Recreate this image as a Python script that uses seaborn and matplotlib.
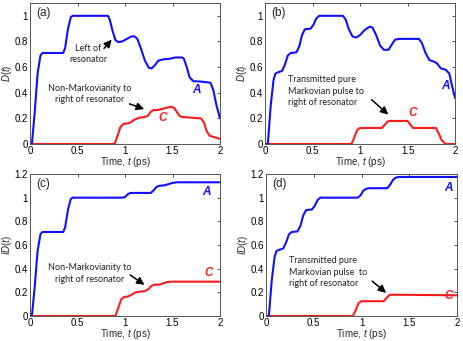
import matplotlib
matplotlib.use("Agg")
import matplotlib.pyplot as plt
import seaborn as sns

# ---- data ----
# (a) D(t), Markovian input with non-Markovian resonator
ta_A = [0, 0.02, 0.05, 0.08, 0.11, 0.13, 0.35, 0.37, 0.40, 0.43, 0.45, 0.82, 0.84, 0.87, 0.90, 0.93,
        0.97, 1.02, 1.07, 1.10, 1.13, 1.17, 1.21, 1.25, 1.28, 1.31, 1.35, 1.40, 1.47, 1.53, 1.60, 1.62,
        1.65, 1.68, 1.72, 1.80, 1.90, 1.93, 1.96, 2.0]
Da_A = [0, 0, 0.25, 0.55, 0.69, 0.71, 0.71, 0.75, 0.90, 0.99, 1.0, 1.0, 0.97, 0.88, 0.81, 0.795,
        0.80, 0.82, 0.84, 0.84, 0.82, 0.74, 0.65, 0.595, 0.59, 0.61, 0.65, 0.66, 0.665, 0.675, 0.675, 0.665,
        0.60, 0.52, 0.49, 0.487, 0.478, 0.42, 0.31, 0.2]
ta_C = [0, 0.89, 0.92, 0.95, 0.98, 1.01, 1.05, 1.10, 1.15, 1.20, 1.24, 1.27, 1.30, 1.34, 1.40, 1.45,
        1.49, 1.52, 1.55, 1.58, 1.62, 1.70, 1.80, 1.83, 1.86, 1.89, 1.93, 2.0]
Da_C = [0, 0, 0.06, 0.13, 0.155, 0.16, 0.165, 0.19, 0.205, 0.21, 0.22, 0.25, 0.265, 0.265, 0.275, 0.285,
        0.29, 0.28, 0.245, 0.215, 0.21, 0.205, 0.2, 0.17, 0.10, 0.065, 0.055, 0.04]

# (b) D(t), Markovian transmitted pulse
tb_A = [0, 0.03, 0.06, 0.09, 0.11, 0.14, 0.18, 0.21, 0.24, 0.27, 0.33, 0.36, 0.39, 0.42, 0.48, 0.51,
        0.54, 0.57, 0.60, 0.82, 0.85, 0.88, 0.92, 0.96, 1.00, 1.05, 1.10, 1.13, 1.17, 1.21, 1.25, 1.30,
        1.33, 1.37, 1.42, 1.62, 1.65, 1.69, 1.73, 1.77, 1.81, 1.85, 1.90, 1.94, 1.97, 2.0]
Db_A = [0, 0, 0.3, 0.5, 0.55, 0.56, 0.57, 0.62, 0.69, 0.71, 0.715, 0.76, 0.85, 0.895, 0.90, 0.93,
        0.98, 1.0, 1.0, 1.0, 0.97, 0.90, 0.84, 0.83, 0.85, 0.89, 0.915, 0.91, 0.85, 0.77, 0.735, 0.735,
        0.77, 0.815, 0.82, 0.82, 0.79, 0.71, 0.655, 0.645, 0.63, 0.59, 0.58, 0.55, 0.45, 0.36]
tb_C = [0, 0.91, 0.94, 0.97, 1.0, 1.23, 1.26, 1.29, 1.31, 1.50, 1.53, 1.56, 1.80, 1.83, 1.86, 1.90, 2.0]
Db_C = [0, 0, 0.05, 0.11, 0.125, 0.125, 0.15, 0.175, 0.18, 0.18, 0.15, 0.125, 0.125, 0.08, 0.03, 0, 0]

# (c) ID(t) for (a)
tc_A = [0, 0.02, 0.05, 0.08, 0.11, 0.13, 0.35, 0.37, 0.40, 0.43, 0.45, 0.97, 1.0, 1.03, 1.06, 1.27,
        1.30, 1.33, 1.36, 1.42, 1.46, 1.50, 1.55, 2.0]
Ic_A = [0, 0, 0.25, 0.55, 0.69, 0.71, 0.71, 0.75, 0.90, 0.99, 1.0, 1.0, 1.005, 1.03, 1.04, 1.04,
        1.06, 1.09, 1.10, 1.105, 1.115, 1.125, 1.13, 1.13]
tc_C = [0, 0.90, 0.93, 0.96, 0.99, 1.03, 1.07, 1.11, 1.15, 1.21, 1.25, 1.28, 1.31, 1.36, 1.40, 1.44, 1.48, 2.0]
Ic_C = [0, 0, 0.07, 0.14, 0.16, 0.165, 0.18, 0.2, 0.205, 0.21, 0.23, 0.255, 0.265, 0.265, 0.275, 0.287, 0.29, 0.29]

# (d) ID(t) for (b)
td_A = [0, 0.03, 0.06, 0.09, 0.11, 0.14, 0.18, 0.21, 0.24, 0.27, 0.33, 0.36, 0.39, 0.42, 0.48, 0.51,
        0.54, 0.57, 0.60, 0.96, 0.99, 1.02, 1.05, 1.08, 1.27, 1.30, 1.33, 1.36, 1.39, 2.0]
Id_A = [0, 0, 0.3, 0.5, 0.55, 0.56, 0.57, 0.62, 0.69, 0.71, 0.715, 0.76, 0.85, 0.895, 0.90, 0.93,
        0.98, 1.0, 1.0, 1.0, 1.02, 1.06, 1.075, 1.08, 1.08, 1.11, 1.15, 1.17, 1.175, 1.175]
td_C = [0, 0.91, 0.94, 0.97, 1.0, 1.23, 1.26, 1.29, 1.31, 2.0]
Id_C = [0, 0, 0.05, 0.11, 0.125, 0.125, 0.15, 0.175, 0.18, 0.175]

xticks = [0, 0.5, 1, 1.5, 2]
xtick_labels = ["0", "0.5", "1", "1.5", "2"]

sns.set_style("white")
plt.rcParams['font.family'] = ['Liberation Sans', 'DejaVu Sans']
plt.rcParams['mathtext.fontset'] = 'custom'
plt.rcParams['mathtext.rm'] = 'Liberation Sans'
plt.rcParams['mathtext.it'] = 'Liberation Sans:italic'

blue = "#1010ff"
red = "#ff1a1a"
note_font = "Lato"

fig = plt.figure(figsize=(4.63, 3.41), dpi=100)
W, H = 463, 341
def add_ax(l, t, r, b):
    return fig.add_axes([l / W, 1 - b / H, (r - l) / W, (b - t) / H])

ax_a = add_ax(30, 3, 220, 144)
ax_b = add_ax(265, 3, 455, 144)
ax_c = add_ax(30, 174, 220, 316)
ax_d = add_ax(266, 174, 457, 316)

panels = [
    (ax_a, ta_A, Da_A, ta_C, Da_C, 1.1, [0, 0.2, 0.4, 0.6, 0.8, 1], ["0", "0.2", "0.4", "0.6", "0.8", "1"], "$D$($t$)", "(a)"),
    (ax_b, tb_A, Db_A, tb_C, Db_C, 1.1, [0, 0.2, 0.4, 0.6, 0.8, 1], ["0", "0.2", "0.4", "0.6", "0.8", "1"], "$D$($t$)", "(b)"),
    (ax_c, tc_A, Ic_A, tc_C, Ic_C, 1.2, [0, 0.2, 0.4, 0.6, 0.8, 1, 1.2], ["0", "0.2", "0.4", "0.6", "0.8", "1", "1.2"], "$ID$($t$)", "(c)"),
    (ax_d, td_A, Id_A, td_C, Id_C, 1.2, [0, 0.2, 0.4, 0.6, 0.8, 1, 1.2], ["0", "0.2", "0.4", "0.6", "0.8", "1", "1.2"], "$ID$($t$)", "(d)"),
]

for ax, tA, vA, tC, vC, ytop, yt, ytl, ylab, tag in panels:
    sns.lineplot(x=tC, y=vC, ax=ax, color=red, lw=1.5, estimator=None, sort=False)
    sns.lineplot(x=tA, y=vA, ax=ax, color=blue, lw=1.5, estimator=None, sort=False)
    ax.set_xlim(0, 2)
    ax.set_ylim(0, ytop)
    ax.set_xticks(xticks, xtick_labels)
    ax.set_yticks(yt, ytl)
    ax.tick_params(direction="in", length=2.5, width=0.6, labelsize=7, pad=1.5,
                   top=True, right=True, colors="#333333", labelcolor="black")
    for s in ax.spines.values():
        s.set_color("#555555")
        s.set_linewidth(0.7)
    ax.set_xlabel("Time, $t$ (ps)", fontsize=7, labelpad=-1)
    ax.set_ylabel(ylab, fontsize=7, labelpad=0)
    ax.text(0.07, ytop - 0.035, tag, fontsize=8.5, va="top", ha="left")

# labels A / C
lab = dict(fontsize=8.5, fontweight="bold", fontstyle="italic")
ax_a.text(1.75, 0.42, "A", color=blue, ha="center", va="center", **lab)
ax_a.text(1.40, 0.20, "C", color=red, ha="center", va="center", **lab)
ax_b.text(1.90, 0.455, "A", color=blue, ha="center", va="center", **lab)
ax_b.text(1.55, 0.24, "C", color=red, ha="center", va="center", **lab)
ax_c.text(1.86, 1.05, "A", color=blue, ha="center", va="center", **lab)
ax_c.text(1.88, 0.36, "C", color=red, ha="center", va="center", **lab)
ax_d.text(1.91, 1.08, "A", color=blue, ha="center", va="center", **lab)
ax_d.text(1.91, 0.17, "C", color=red, ha="center", va="center", **lab)

arr = dict(arrowstyle="-|>,head_length=0.45,head_width=0.22", color="black", lw=1.1)
note = dict(fontsize=6.5, family=note_font, color="#222222", linespacing=1.35)

ax_a.annotate("", xy=(0.88, 0.83), xytext=(0.76, 0.73), arrowprops=arr)
ax_a.text(0.61, 0.70, "Left of\nresonator", ha="center", va="center", **note)
ax_a.annotate("", xy=(1.23, 0.265), xytext=(1.02, 0.32), arrowprops=arr)
ax_a.text(0.63, 0.39, "Non-Markovianity to\nright of resonator", ha="center", va="center", **note)

ax_b.annotate("", xy=(1.32, 0.215), xytext=(1.10, 0.36), arrowprops=arr)
ax_b.text(0.245, 0.41, "Transmitted pure\nMarkovian pulse to\nright of resonator", ha="left", va="center", **note)

ax_c.annotate("", xy=(1.23, 0.25), xytext=(1.03, 0.36), arrowprops=arr)
ax_c.text(0.63, 0.36, "Non-Markovianity to\nright of resonator", ha="center", va="center", **note)

ax_d.annotate("", xy=(1.28, 0.18), xytext=(1.09, 0.31), arrowprops=arr)
ax_d.text(0.24, 0.37, "Transmitted pure\nMarkovian pulse  to\nright of resonator", ha="left", va="center", **note)

fig.savefig("out.png", dpi=100)
